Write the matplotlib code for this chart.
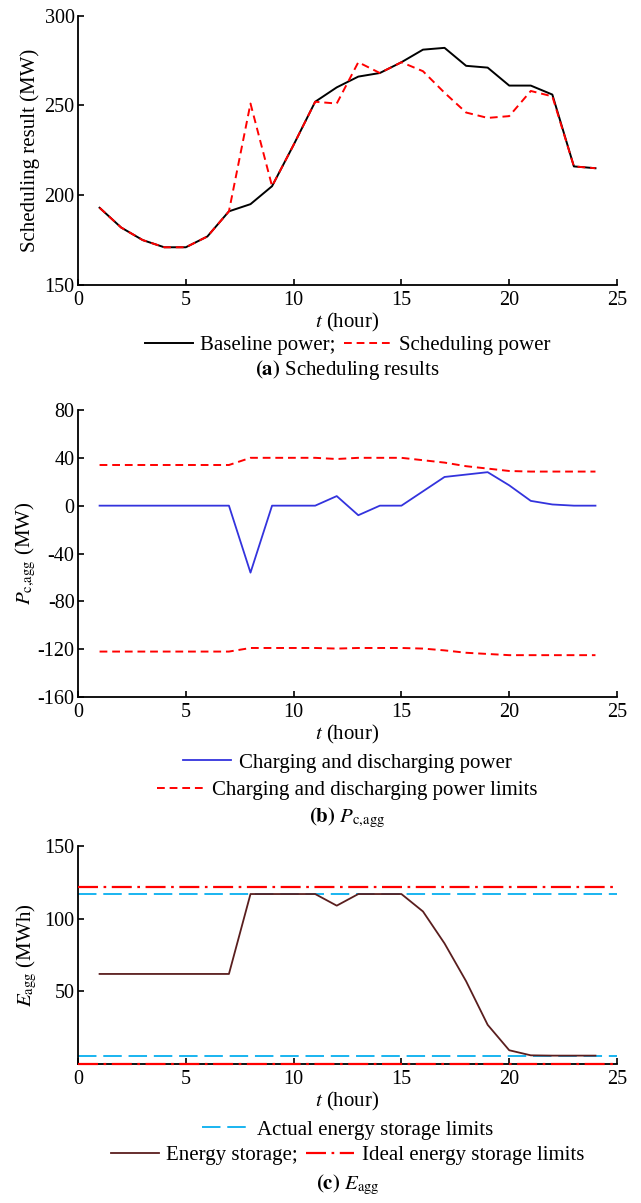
import numpy as np
import matplotlib
matplotlib.use("Agg")
import matplotlib.pyplot as plt
from matplotlib.lines import Line2D

plt.rcParams["font.family"] = ["Liberation Serif", "DejaVu Serif"]
plt.rcParams["mathtext.fontset"] = "stix"
plt.rcParams["font.size"] = 15

# ---- data ----
hours = np.arange(1, 25)

baseline_power = [193, 182, 175, 171, 171, 177, 191, 195, 205, 228, 252, 260,
                  266, 268, 274, 281, 282, 272, 271, 261, 261, 256, 216, 215]
scheduling_power = [193, 182, 175, 171, 171, 177, 191, 251, 205, 228, 252, 251,
                    274, 268, 274, 269, 257, 246, 243, 244, 258, 255, 216, 215]

charge_power = [0, 0, 0, 0, 0, 0, 0, -56, 0, 0, 0, 8, -8, 0, 0, 12,
                24, 26, 28, 17, 4, 1, 0, 0]
power_upper = [34, 34, 34, 34, 34, 34, 34, 40, 40, 40, 40, 39, 40, 40, 40, 38,
               36, 33, 31, 29, 28.5, 28.5, 28.5, 28.5]
power_lower = [-122, -122, -122, -122, -122, -122, -122, -119, -119, -119, -119,
               -119.5, -119, -119, -119, -119.5, -121, -123, -124, -125, -125,
               -125, -125, -125]

energy_storage = [62, 62, 62, 62, 62, 62, 62, 117, 117, 117, 117, 109, 117, 117,
                  117, 105, 83, 57, 27, 9.5, 6, 5.8, 5.8, 5.8]
actual_limits = [5.8, 117]
ideal_limits = [0, 122]

x_ticks = [0, 5, 10, 15, 20, 25]
yticks_a = [150, 200, 250, 300]
yticks_b = [80, 40, 0, -40, -80, -120, -160]
yticks_c = [50, 100, 150]

RED = "#ff0000"
BLUE = "#3333dd"
BROWN = "#5a1e1e"
CYAN = "#19b4f0"
FS = 15
TICK_FS = 14.5
RED_DASH = (0, (4, 2.5))
CYAN_DASH = (0, (9.5, 3.5))
DASH_DOT = (0, (9, 2.5, 1.2, 2.5))
P_CAGG = r"$P_{\mathrm{c{,}agg}}$"
E_AGG = r"$E_{\mathrm{agg}}$"

fig = plt.figure(figsize=(6.41, 12.03), dpi=100)

left, width = 0.1217, 0.8409
ax_a = fig.add_axes([left, 0.7631, width, 0.2240])
ax_b = fig.add_axes([left, 0.4206, width, 0.2386])
ax_c = fig.add_axes([left, 0.1155, width, 0.1812])


def style_axes(ax):
    ax.spines["top"].set_visible(False)
    ax.spines["right"].set_visible(False)
    ax.spines["left"].set_linewidth(1.3)
    ax.spines["bottom"].set_linewidth(1.3)
    ax.tick_params(direction="in", length=4, width=1.2, labelsize=TICK_FS)
    ax.tick_params(axis="x", pad=4)
    ax.tick_params(axis="y", pad=2.5)
    ax.set_xlim(0, 25)
    ax.set_xticks(x_ticks)
    ax.set_xlabel(r"$t$ (hour)", fontsize=FS, labelpad=1)


def add_legend(handles, labels, y, ncol=1):
    fig.legend(handles=handles, labels=labels, loc="center", ncol=ncol,
               bbox_to_anchor=(xc, y), frameon=False, fontsize=FS,
               handlelength=2.3, columnspacing=0.4, handletextpad=0.35,
               borderpad=0, borderaxespad=0)


xc = left + width / 2

# (a) scheduling results
ln_a1, = ax_a.plot(hours, baseline_power, color="black", lw=1.4)
ln_a2, = ax_a.plot(hours, scheduling_power, color=RED, lw=1.4, ls=RED_DASH)
style_axes(ax_a)
ax_a.set_ylim(150, 300)
ax_a.set_yticks(yticks_a)
ax_a.set_ylabel("Scheduling result (MW)", fontsize=FS, labelpad=3)
add_legend([ln_a1, ln_a2], ["Baseline power;", "Scheduling power"], 0.7132,
           ncol=2)
fig.text(xc, 0.6924, r"$\mathbf{(a)}$ Scheduling results", ha="center",
         va="center", fontsize=FS)

# (b) charging / discharging power
ln_b1, = ax_b.plot(hours, charge_power, color=BLUE, lw=1.3)
ln_b2, = ax_b.plot(hours, power_upper, color=RED, lw=1.4, ls=RED_DASH)
ax_b.plot(hours, power_lower, color=RED, lw=1.4, ls=RED_DASH)
style_axes(ax_b)
ax_b.set_ylim(-160, 80)
ax_b.set_yticks(yticks_b)
ax_b.set_yticklabels([str(v) for v in yticks_b])
ax_b.set_ylabel(P_CAGG + " (MW)", fontsize=FS, labelpad=0)
add_legend([ln_b1], ["Charging and discharging power"], 0.3658)
add_legend([ln_b2], ["Charging and discharging power limits"], 0.3433)
fig.text(xc, 0.3200, r"$\mathbf{(b)}$ " + P_CAGG, ha="center",
         va="center", fontsize=FS)

# (c) energy storage
for v in actual_limits:
    ax_c.axhline(v, color=CYAN, lw=1.4, ls=CYAN_DASH)
for v in ideal_limits:
    ax_c.axhline(v, color=RED, lw=1.6, ls=DASH_DOT, clip_on=False, zorder=5)
ln_c1, = ax_c.plot(hours, energy_storage, color=BROWN, lw=1.3)
style_axes(ax_c)
ax_c.set_ylim(0, 150)
ax_c.set_yticks(yticks_c)
ax_c.set_ylabel(E_AGG + " (MWh)", fontsize=FS, labelpad=4)
leg_c2 = Line2D([], [], color=CYAN, lw=1.4, ls=CYAN_DASH)
leg_c3 = Line2D([], [], color=RED, lw=1.6, ls=DASH_DOT)
add_legend([leg_c2], ["Actual energy storage limits"], 0.0607)
add_legend([ln_c1, leg_c3], ["Energy storage;", "Ideal energy storage limits"],
           0.0399, ncol=2)
fig.text(xc, 0.0150, r"$\mathbf{(c)}$ " + E_AGG, ha="center",
         va="center", fontsize=FS)

fig.savefig("out.png", dpi=100)
